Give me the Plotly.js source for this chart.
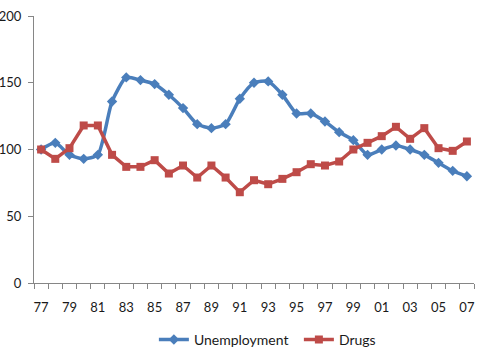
<!DOCTYPE html>
<html><head><meta charset="utf-8">
<script src="https://cdn.plot.ly/plotly-3.0.1.min.js"></script>
<style>html,body{margin:0;padding:0;background:#fff}#chart{width:477px;height:361px}</style>
</head><body><div id="chart"></div>
<script>
const yearLabels = ["77","78","79","80","81","82","83","84","85","86","87","88","89","90","91","92","93","94","95","96","97","98","99","00","01","02","03","04","05","06","07"];
const unemployment = [100,105,96,93,96,136,154,152,149,141,131,119,116,119,138,150,151,141,127,127,121,113,107,96,100,103,100,96,90,84,80];
const drugs = [100,93,101,118,118,96,87,87,92,82,88,79,88,79,68,77,74,78,83,89,88,91,100,105,110,117,108,116,101,99,106];

const xi = yearLabels.map((_, i) => i);
const shownIdx = xi.filter(i => i % 2 === 0);
const shownText = shownIdx.map(i => yearLabels[i]);

const traces = [
  {x: xi, y: unemployment, name: 'Unemployment', type: 'scatter', mode: 'lines+markers',
   line: {color: '#4A7EBB', width: 3.5, shape: 'spline', smoothing: 0.6},
   marker: {symbol: 'diamond', size: 8, color: '#4A7EBB'}},
  {x: xi, y: drugs, name: 'Drugs', type: 'scatter', mode: 'lines+markers',
   line: {color: '#BE4B48', width: 3.5},
   marker: {symbol: 'square', size: 8, color: '#BE4B48'}}
];

const font = {family: 'Lato, "Open Sans", sans-serif', size: 13, color: '#1a1a1a'};
const layout = {
  width: 477, height: 361,
  margin: {l: 34, r: 3, t: 16, b: 78},
  paper_bgcolor: '#fff', plot_bgcolor: '#fff',
  font: font,
  showlegend: true,
  legend: {orientation: 'h', x: 0.602, xanchor: 'center', y: -0.213, yanchor: 'middle',
    font: {family: font.family, size: 14, color: '#1a1a1a'}, entrywidth: 100, itemwidth: 30},
  xaxis: {range: [-0.5, 30.5], tickmode: 'array', tickvals: shownIdx, ticktext: shownText,
    showgrid: false, zeroline: false, showline: true, linecolor: '#868686', linewidth: 1,
    ticks: '', ticklabelstandoff: 12, fixedrange: true,
    minor: {ticks: 'outside', tick0: -0.5, dtick: 1, ticklen: 5, tickcolor: '#868686', showgrid: false}},
  yaxis: {range: [0, 200], dtick: 50, tick0: 0, showgrid: false, zeroline: false,
    showline: true, linecolor: '#868686', linewidth: 1,
    ticks: 'outside', ticklen: 5, tickcolor: '#868686', ticklabelstandoff: 4}
};
Plotly.newPlot('chart', traces, layout, {staticPlot: true, displayModeBar: false});
</script></body></html>
